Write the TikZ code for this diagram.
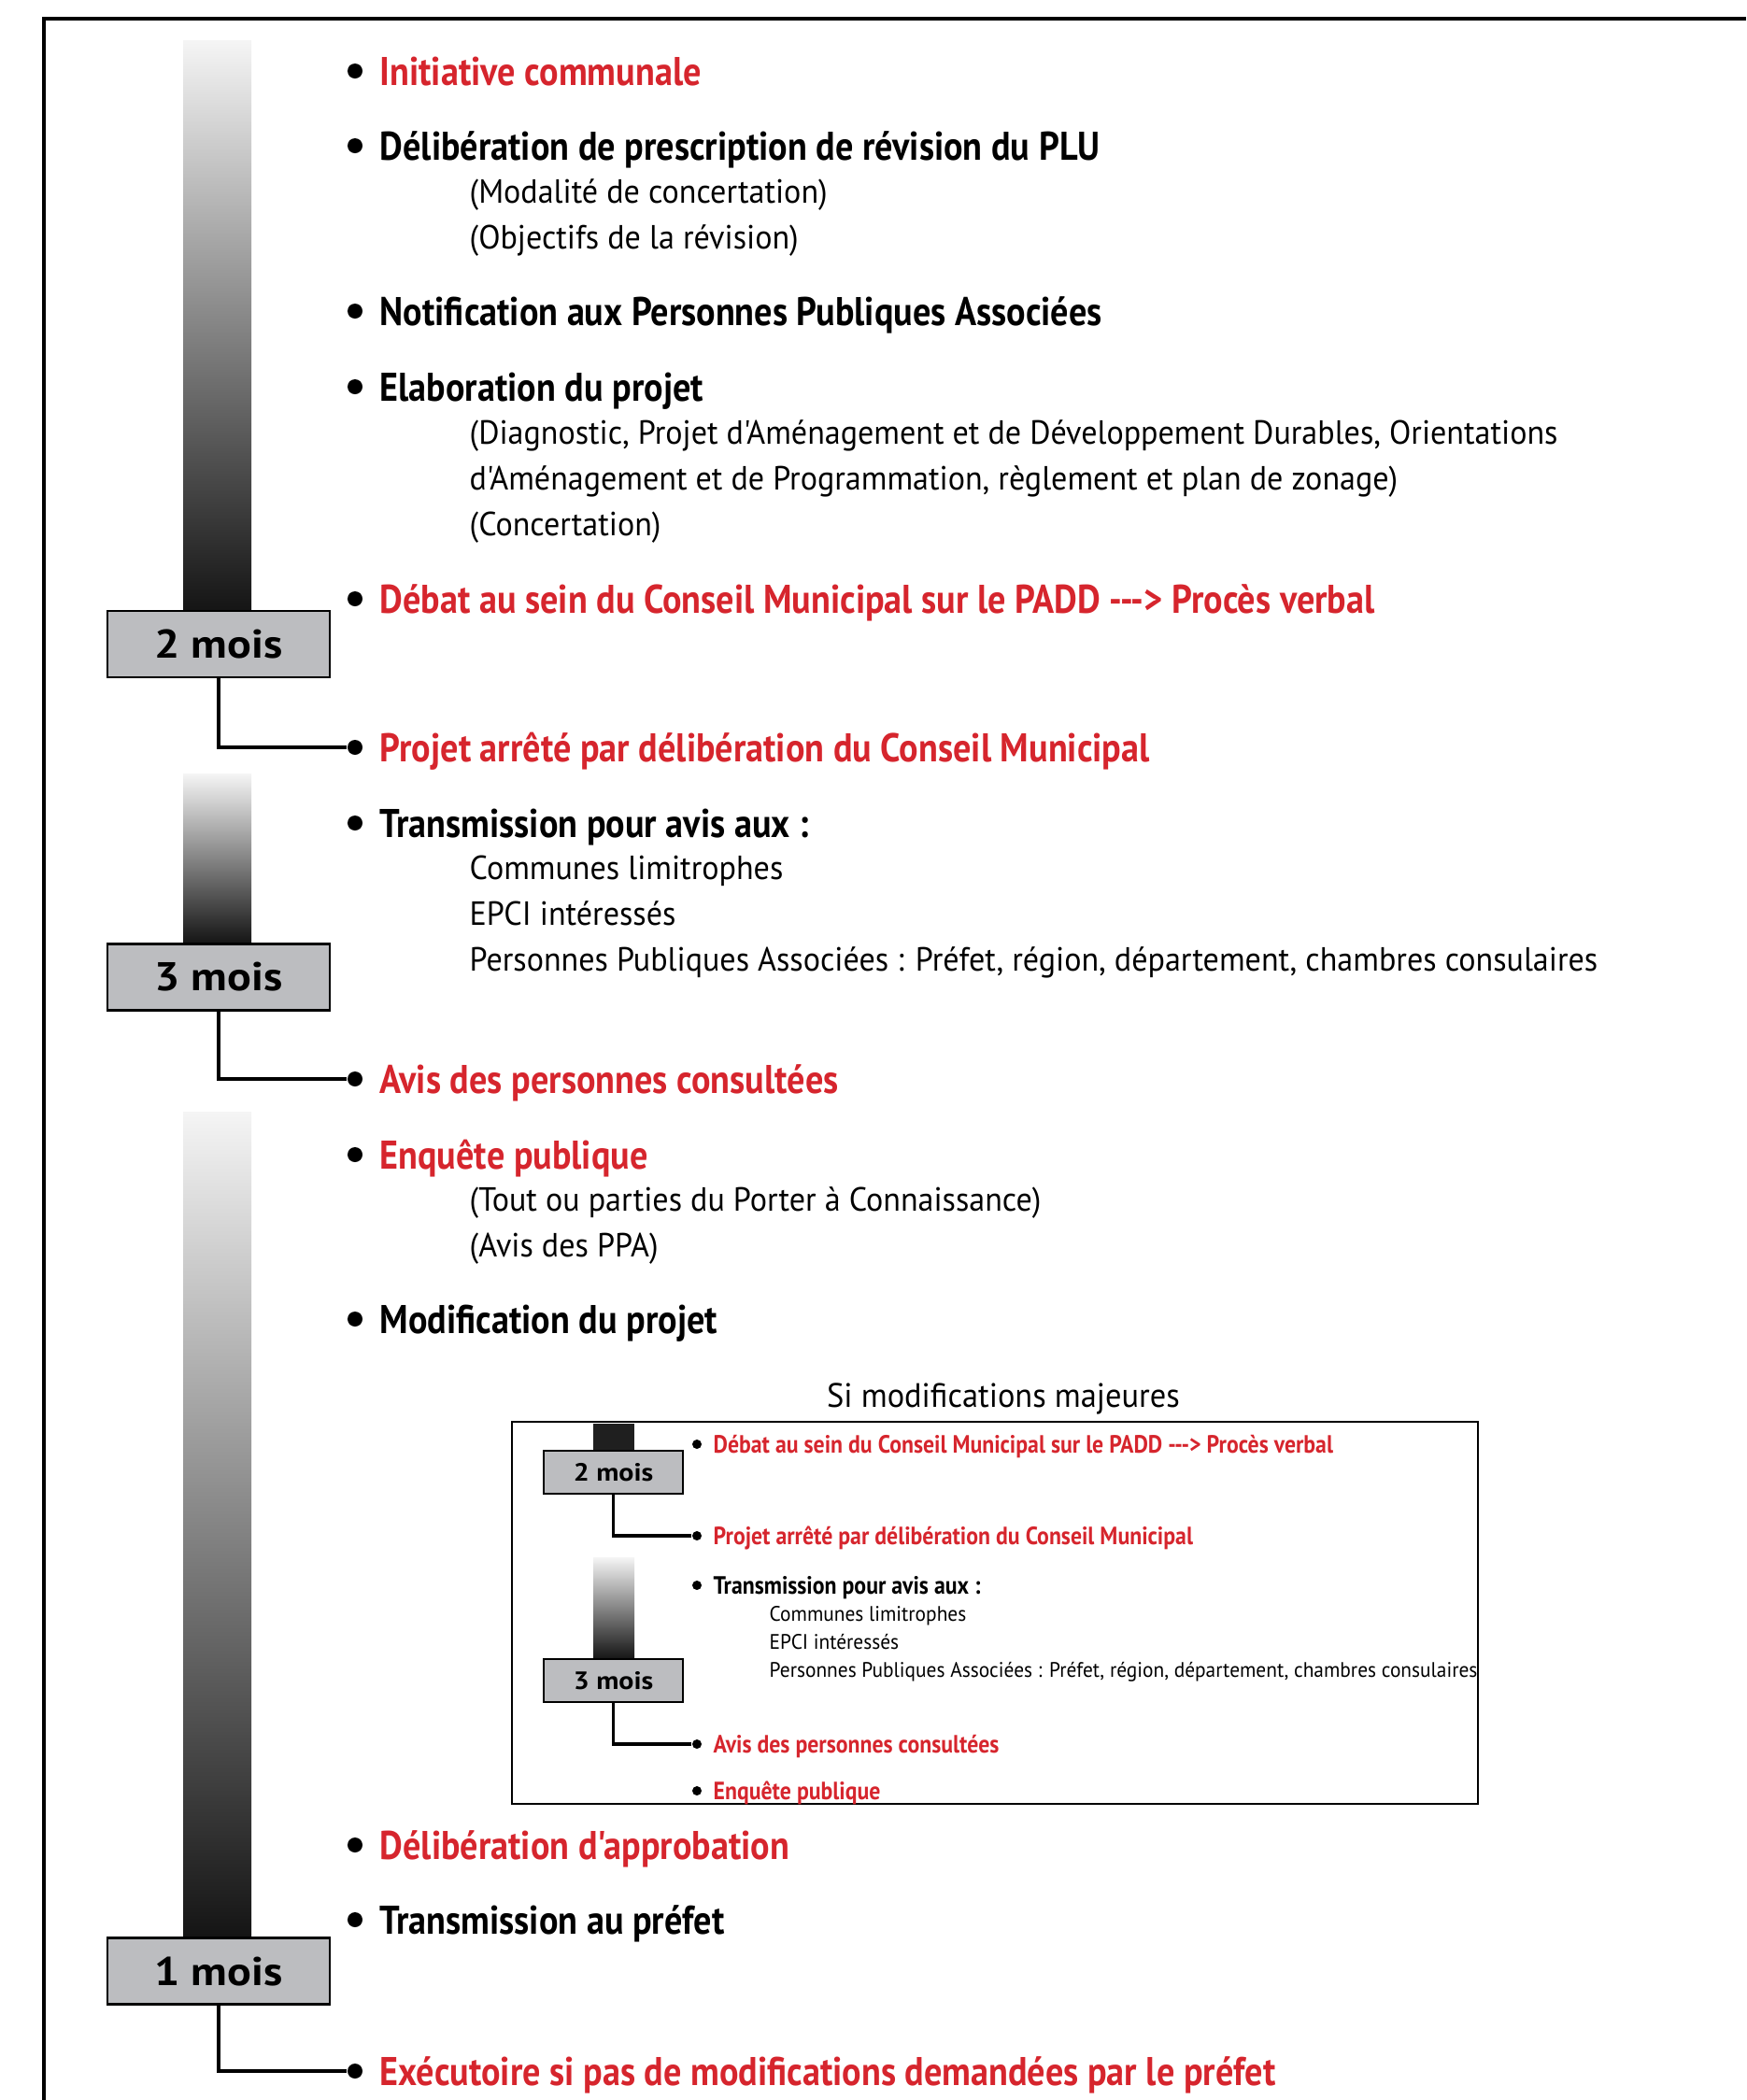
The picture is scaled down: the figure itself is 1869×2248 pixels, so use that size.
\documentclass[tikz,border=0pt]{standalone}
\usepackage{fontspec}
\setmainfont{PT Sans}
\newfontfamily\headfont{PT Sans}[FakeStretch=0.89]
\newfontfamily\subfont{PT Sans}[FakeStretch=0.95]
\newfontfamily\durfont{PT Sans}[FakeStretch=1.12]
\definecolor{plured}{RGB}{214,37,45}
\definecolor{boxgray}{RGB}{188,189,192}

\begin{document}
\begin{tikzpicture}[x=0.01cm, y=-0.01cm,
    head/.style={anchor=base west, inner sep=0, font=\headfont\bfseries\fontsize{12.2}{14}\selectfont},
    redhead/.style={head, text=plured},
    sub/.style={anchor=base west, inner sep=0, align=left, font=\subfont\fontsize{10.2}{13.9}\selectfont},
    bul/.style={circle, fill=black, inner sep=0, minimum size=0.16cm},
    dur/.style={draw=black, line width=0.8pt, fill=boxgray, inner sep=0, minimum width=2.38cm, minimum height=0.71cm, font=\durfont\bfseries\fontsize{12.2}{14}\selectfont},
    lien/.style={line width=1.4pt},
    % smaller copies for the inset
    ihead/.style={anchor=base west, inner sep=0, font=\headfont\bfseries\fontsize{7.6}{9}\selectfont},
    iredhead/.style={ihead, text=plured},
    isub/.style={anchor=base west, inner sep=0, align=left, font=\subfont\fontsize{6.4}{8.5}\selectfont},
    ibul/.style={circle, fill=black, inner sep=0, minimum size=0.1cm},
    idur/.style={draw=black, line width=0.6pt, fill=boxgray, inner sep=0, minimum width=1.49cm, minimum height=0.46cm, font=\durfont\bfseries\fontsize{7.6}{9}\selectfont},
    ilien/.style={line width=0.9pt}]
    \useasboundingbox (0,0) rectangle (1869,2248);

    % frame
    \draw[line width=1.2pt] (47,2248) |- (1869,20);

    % time bars
    \shade[top color=white!96!black, bottom color=black!92] (196,43) rectangle (269,654);
    \shade[top color=white!96!black, bottom color=black!92] (196,828) rectangle (269,1010);
    \shade[top color=white!96!black, bottom color=black!92] (196,1190) rectangle (269,2074);

    \node[dur] (d1) at (234,689.5) {2 mois};
    \node[dur] (d2) at (234,1046) {3 mois};
    \node[dur] (d3) at (234,2110) {1 mois};

    % bullets
    \node[bul] (b1) at (380,76) {};
    \node[bul] (b2) at (380,156) {};
    \node[bul] (b3) at (380,333) {};
    \node[bul] (b4) at (380,414) {};
    \node[bul] (b5) at (380,641) {};
    \node[bul] (b6) at (380,800) {};
    \node[bul] (b7) at (380,881) {};
    \node[bul] (b8) at (380,1155) {};
    \node[bul] (b9) at (380,1236) {};
    \node[bul] (b10) at (380,1412) {};
    \node[bul] (b11) at (380,1975) {};
    \node[bul] (b12) at (380,2055) {};
    \node[bul] (b13) at (380,2217) {};

    % steps (base of a multi-line node = its last line)
    \node[redhead] (t1) at (406,91) {Initiative communale};
    \node[head] (t2) at (406,171) {Délibération de prescription de révision du PLU};
    \node[sub] (s2) at (502,266.5) {(Modalité de concertation)\\(Objectifs de la révision)};
    \node[head] (t3) at (406,348) {Notification aux Personnes Publiques Associées};
    \node[head] (t4) at (406,429) {Elaboration du projet};
    \node[sub] (s4) at (502,573.5) {(Diagnostic, Projet d'Aménagement et de Développement Durables, Orientations\\d'Aménagement et de Programmation, règlement et plan de zonage)\\(Concertation)};
    \node[redhead] (t5) at (406,656) {Débat au sein du Conseil Municipal sur le PADD ---> Procès verbal};
    \node[redhead] (t6) at (406,815) {Projet arrêté par délibération du Conseil Municipal};
    \node[head] (t7) at (406,896) {Transmission pour avis aux :};
    \node[sub] (s7) at (502,1039.5) {Communes limitrophes\\EPCI intéressés\\Personnes Publiques Associées : Préfet, région, département, chambres consulaires};
    \node[redhead] (t8) at (406,1170) {Avis des personnes consultées};
    \node[redhead] (t9) at (406,1251) {Enquête publique};
    \node[sub] (s9) at (502,1345.5) {(Tout ou parties du Porter à Connaissance)\\(Avis des PPA)};
    \node[head] (t10) at (406,1427) {Modification du projet};
    \node[redhead] (t11) at (406,1990) {Délibération d'approbation};
    \node[head] (t12) at (406,2070) {Transmission au préfet};
    \node[redhead] (t13) at (406,2232) {Exécutoire si pas de modifications demandées par le préfet};

    \draw[lien] (d1.south) |- (b6);
    \draw[lien] (d2.south) |- (b8);
    \draw[lien] (d3.south) |- (b13);

    % inset: major modifications
    \node[anchor=base, inner sep=0, font=\subfont\fontsize{10.3}{13}\selectfont] (maj) at (1074,1506.5) {Si modifications majeures};
    \draw[line width=0.8pt] (548,1522) rectangle (1582,1931);

    \fill[black!88] (635,1524) rectangle (679,1553);
    \shade[top color=white!96!black, bottom color=black!92] (635,1667) rectangle (679,1776);
    \node[idur] (e1) at (656.5,1576) {2 mois};
    \node[idur] (e2) at (656.5,1799) {3 mois};

    \node[ibul] (c1) at (746,1546) {};
    \node[ibul] (c2) at (746,1644) {};
    \node[ibul] (c3) at (746,1697) {};
    \node[ibul] (c4) at (746,1867) {};
    \node[ibul] (c5) at (746,1917) {};

    \node[iredhead] (u1) at (763,1555.5) {Débat au sein du Conseil Municipal sur le PADD ---> Procès verbal};
    \node[iredhead] (u2) at (763,1653.5) {Projet arrêté par délibération du Conseil Municipal};
    \node[ihead] (u3) at (763,1706.5) {Transmission pour avis aux :};
    \node[isub] (v3) at (823,1795) {Communes limitrophes\\EPCI intéressés\\Personnes Publiques Associées : Préfet, région, département, chambres consulaires};
    \node[iredhead] (u4) at (763,1876.5) {Avis des personnes consultées};
    \node[iredhead] (u5) at (763,1926.5) {Enquête publique};

    \draw[ilien] (e1.south) |- (c2);
    \draw[ilien] (e2.south) |- (c4);
\end{tikzpicture}
\end{document}
